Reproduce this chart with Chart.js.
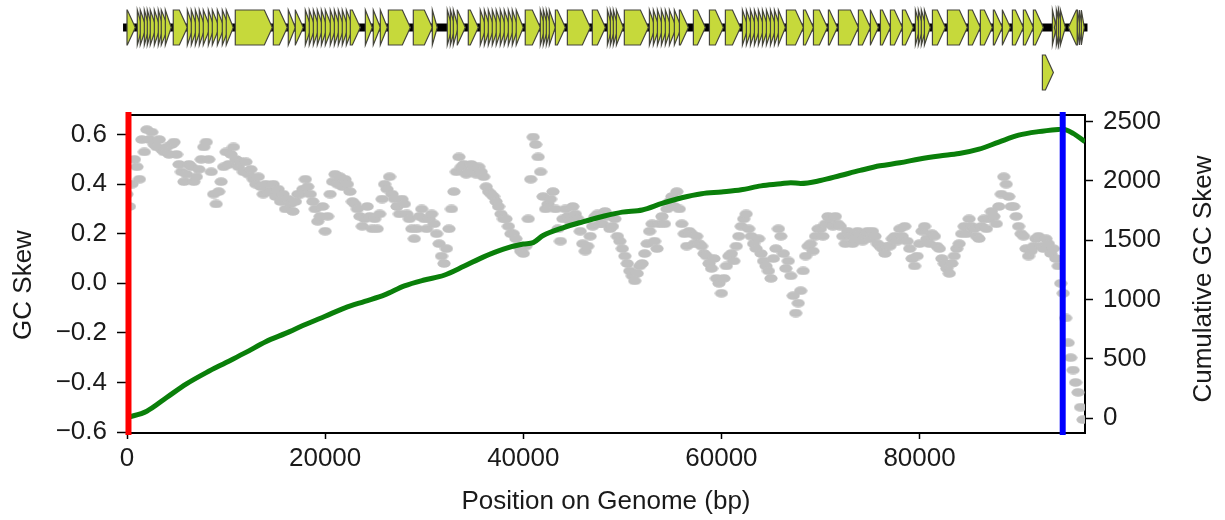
<!DOCTYPE html>
<html>
<head>
<meta charset="utf-8">
<title>GC Skew</title>
<script src="https://cdn.jsdelivr.net/npm/chart.js@4.4.1/dist/chart.umd.min.js"></script>
<style>
  html, body { margin: 0; padding: 0; background: #fff; }
  #wrap { width: 1225px; height: 520px; }
</style>
</head>
<body>
<div id="wrap"><canvas id="skewChart" width="1225" height="520"></canvas></div>
<script>
// GC skew per 250 bp window, one row = 5000 bp
const skewStep = 250;
const skewValues = [
  0.36, 0.31, 0.40, 0.50, 0.47, 0.42, 0.58, 0.53, 0.62, 0.58, 0.61, 0.56, 0.55, 0.58, 0.54, 0.53, 0.55, 0.52, 0.56, 0.57,
  0.52, 0.48, 0.45, 0.41, 0.44, 0.48, 0.47, 0.41, 0.43, 0.46, 0.50, 0.55, 0.57, 0.50, 0.45, 0.36, 0.32, 0.37, 0.41, 0.47,
  0.53, 0.48, 0.52, 0.55, 0.50, 0.47, 0.49, 0.45, 0.49, 0.44, 0.46, 0.42, 0.40, 0.43, 0.39, 0.36, 0.40, 0.37, 0.37, 0.40,
  0.35, 0.38, 0.33, 0.36, 0.30, 0.34, 0.32, 0.29, 0.33, 0.36, 0.36, 0.38, 0.42, 0.39, 0.36, 0.33, 0.30, 0.25, 0.27, 0.31,
  0.21, 0.27, 0.36, 0.41, 0.44, 0.40, 0.43, 0.39, 0.42, 0.40, 0.37, 0.33, 0.32, 0.30, 0.27, 0.23, 0.26, 0.31, 0.27, 0.22,
  0.26, 0.22, 0.28, 0.34, 0.40, 0.38, 0.43, 0.36, 0.34, 0.31, 0.28, 0.34, 0.32, 0.28, 0.26, 0.22, 0.18, 0.22, 0.27, 0.30,
  0.26, 0.22, 0.26, 0.28, 0.24, 0.20, 0.16, 0.11, 0.08, 0.14, 0.22, 0.30, 0.37, 0.45, 0.51, 0.47, 0.48, 0.44, 0.45, 0.48,
  0.47, 0.44, 0.47, 0.45, 0.43, 0.39, 0.37, 0.36, 0.35, 0.33, 0.31, 0.28, 0.26, 0.26, 0.23, 0.20, 0.20, 0.18, 0.15, 0.13,
  0.12, 0.15, 0.26, 0.42, 0.59, 0.56, 0.51, 0.45, 0.35, 0.30, 0.32, 0.34, 0.37, 0.30, 0.22, 0.17, 0.26, 0.30, 0.27, 0.25,
  0.31, 0.28, 0.26, 0.21, 0.16, 0.13, 0.15, 0.19, 0.23, 0.27, 0.28, 0.24, 0.24, 0.29, 0.27, 0.22, 0.23, 0.26, 0.19, 0.17,
  0.14, 0.11, 0.08, 0.05, 0.03, 0.01, 0.04, 0.07, 0.08, 0.12, 0.16, 0.21, 0.24, 0.17, 0.14, 0.24, 0.27, 0.24, 0.30, 0.33,
  0.35, 0.31, 0.37, 0.30, 0.24, 0.20, 0.15, 0.21, 0.20, 0.16, 0.19, 0.16, 0.15, 0.12, 0.11, 0.08, 0.06, 0.10, 0.02, 0.00,
  -0.04, 0.02, 0.07, 0.11, 0.12, 0.09, 0.15, 0.19, 0.23, 0.26, 0.28, 0.22, 0.19, 0.16, 0.14, 0.18, 0.12, 0.09, 0.07, 0.05,
  0.02, 0.10, 0.14, 0.22, 0.19, 0.12, 0.06, 0.09, 0.03, -0.05, -0.12, -0.08, -0.03, 0.05, 0.11, 0.15, 0.16, 0.13, 0.19, 0.22,
  0.22, 0.19, 0.24, 0.27, 0.26, 0.23, 0.27, 0.24, 0.23, 0.19, 0.16, 0.21, 0.19, 0.16, 0.18, 0.21, 0.20, 0.17, 0.19, 0.21,
  0.18, 0.21, 0.19, 0.16, 0.15, 0.14, 0.12, 0.15, 0.15, 0.18, 0.19, 0.17, 0.22, 0.19, 0.23, 0.17, 0.14, 0.10, 0.07, 0.11,
  0.16, 0.21, 0.23, 0.18, 0.16, 0.20, 0.19, 0.15, 0.14, 0.10, 0.08, 0.06, 0.04, 0.08, 0.11, 0.14, 0.16, 0.20, 0.23, 0.20,
  0.26, 0.23, 0.22, 0.19, 0.18, 0.23, 0.26, 0.22, 0.26, 0.29, 0.27, 0.24, 0.31, 0.36, 0.43, 0.40, 0.35, 0.31, 0.31, 0.27,
  0.23, 0.20, 0.19, 0.14, 0.11, 0.13, 0.15, 0.18, 0.19, 0.15, 0.14, 0.18, 0.16, 0.12, 0.14, 0.10, 0.07, 0.00, -0.04, -0.14,
  -0.24, -0.30, -0.35, -0.40, -0.44, -0.50, -0.55
];

// cumulative GC skew
const cumPositions = [0, 2000, 4000, 6000, 8000, 10000, 12000, 14000, 16000, 18000,
  20000, 22000, 24000, 26000, 28000, 30000, 32000, 34000, 36000, 38000,
  40000, 41000, 42000, 44000, 46000, 48000, 50000, 52000, 54000, 56000,
  58000, 60000, 62000, 64000, 66000, 67000, 68000, 70000, 72000, 74000,
  76000, 78000, 80000, 82000, 84000, 86000, 88000, 90000, 92000, 94000,
  94500, 95500, 96700];
const cumValues = [5, 60, 175, 290, 385, 470, 555, 645, 715, 790,
  860, 930, 985, 1040, 1115, 1165, 1205, 1280, 1360, 1425,
  1468, 1480, 1540, 1605, 1655, 1700, 1737, 1755, 1810, 1858,
  1892, 1907, 1925, 1958, 1975, 1985, 1978, 2003, 2045, 2088,
  2127, 2152, 2185, 2210, 2230, 2267, 2327, 2385, 2415, 2433,
  2436, 2400, 2330];

const positionTicks = [0, 20000, 40000, 60000, 80000];
const skewTicks = [-0.6, -0.4, -0.2, 0.0, 0.2, 0.4, 0.6];
const cumTicks = [0, 500, 1000, 1500, 2000, 2500];

// origin (red) and terminus (blue)
const originPos = 150;
const terminusPos = 94450;

// gene map
const backbone = [-400, 96950];
const geneStarts = [0, 1040, 1340, 1750, 2050, 2350, 2760, 3160, 3460, 3870,
  4670, 6090, 6490, 6900, 7300, 7700, 8210, 8610, 9120, 9620,
  10020, 10930, 14770, 16280, 16990, 18000, 18400, 18810, 19210, 19620,
  20020, 20520, 20930, 21330, 21730, 22140, 22540, 24060, 24860, 25570,
  26380, 28900, 30820, 32330, 32640, 32940, 33340, 34450, 35660, 36070,
  36470, 36870, 37270, 37680, 38080, 38490, 38890, 39290, 40200, 41720,
  42020, 42330, 42630, 43240, 44450, 46970, 48490, 48790, 49090, 49400,
  50200, 52730, 53130, 53540, 53940, 54340, 54750, 55250, 55760, 57170,
  58790, 60400, 62120, 62520, 62930, 63330, 63730, 64140, 64540, 64950,
  65350, 65750, 66560, 68280, 69290, 70800, 71810, 73830, 75040, 76050,
  77060, 78270, 79580, 79880, 80180, 80490, 81300, 82810, 84930, 86140,
  87450, 88360, 89370, 90480, 91490, 93410, 93610, 93810, 94020, 94220,
  95020, 95930, 96130, 96330];
const geneEnds = [840, 1550, 1950, 2250, 2550, 2960, 3360, 3670, 4170, 4470,
  6090, 6690, 7100, 7500, 7900, 8410, 8810, 9320, 9820, 10330,
  10730, 14670, 16180, 16990, 17800, 18610, 19010, 19420, 19820, 20220,
  20720, 21130, 21530, 21940, 22340, 22840, 23550, 24760, 25570, 26280,
  28600, 30820, 31320, 32840, 33140, 33440, 34150, 35460, 36270, 36670,
  37070, 37480, 37880, 38280, 38690, 39090, 39490, 40000, 41720, 42230,
  42530, 42830, 43240, 44250, 46770, 48290, 48990, 49300, 49600, 50100,
  52630, 53330, 53740, 54140, 54540, 54950, 55450, 55960, 56670, 58380,
  60200, 61920, 62720, 63130, 63530, 63940, 64340, 64740, 65150, 65550,
  65960, 66460, 68280, 69290, 70700, 71710, 73830, 75040, 75850, 77060,
  78270, 79380, 80080, 80390, 80690, 81090, 82610, 84830, 86140, 87350,
  88360, 89170, 90480, 91490, 92500, 93810, 94020, 94220, 94420, 94720,
  95930, 96230, 96430, 96630];
const reverseGeneStarts = [93610, 95020];
const lowerGeneStarts = [92400];
const lowerGeneEnds = [93510];

const FONT = '"Liberation Sans", Arial, sans-serif';
const TEXT = '#1a1a1a';

// flattened dot, like the markers in the original figure
function makeDot() {
  const c = document.createElement('canvas');
  c.width = 14;
  c.height = 9;
  const g = c.getContext('2d');
  g.fillStyle = '#c0c0c0';
  g.beginPath();
  g.ellipse(7, 4.5, 6.6, 4.3, 0, 0, Math.PI * 2);
  g.fill();
  return c;
}

function drawGene(ctx, x1, x2, cy, reverse) {
  const h = 17.5;
  const head = Math.min(8, x2 - x1);
  ctx.beginPath();
  if (!reverse) {
    ctx.moveTo(x1, cy - h);
    ctx.lineTo(x2 - head, cy - h);
    ctx.lineTo(x2, cy);
    ctx.lineTo(x2 - head, cy + h);
    ctx.lineTo(x1, cy + h);
  } else {
    ctx.moveTo(x2, cy - h);
    ctx.lineTo(x1 + head, cy - h);
    ctx.lineTo(x1, cy);
    ctx.lineTo(x1 + head, cy + h);
    ctx.lineTo(x2, cy + h);
  }
  ctx.closePath();
  ctx.fill();
  ctx.stroke();
}

const extras = {
  id: 'extras',
  afterDatasetsDraw(chart) {
    const { ctx, chartArea } = chart;
    const x = chart.scales.x;
    ctx.save();
    // top edge of the frame
    ctx.strokeStyle = '#000';
    ctx.lineWidth = 2;
    ctx.beginPath();
    ctx.moveTo(chartArea.left, chartArea.top);
    ctx.lineTo(chartArea.right, chartArea.top);
    ctx.stroke();
    // origin / terminus markers
    [[originPos, '#ff0000'], [terminusPos, '#0000ff']].forEach(([pos, col]) => {
      const px = x.getPixelForValue(pos);
      ctx.strokeStyle = col;
      ctx.lineWidth = 6;
      ctx.beginPath();
      ctx.moveTo(px, chartArea.top - 3);
      ctx.lineTo(px, chartArea.bottom + 2);
      ctx.stroke();
    });
    ctx.restore();
  },
  afterDraw(chart) {
    const ctx = chart.ctx;
    const x = chart.scales.x;
    ctx.save();
    // y titles, both reading bottom to top
    ctx.fillStyle = TEXT;
    ctx.font = '26px ' + FONT;
    ctx.textAlign = 'center';
    ctx.textBaseline = 'alphabetic';
    ctx.translate(31, 285);
    ctx.rotate(-Math.PI / 2);
    ctx.fillText('GC Skew', 0, 0);
    ctx.setTransform(1, 0, 0, 1, 0, 0);
    ctx.translate(1211, 279);
    ctx.rotate(-Math.PI / 2);
    ctx.fillText('Cumulative GC Skew', 0, 0);
    ctx.setTransform(1, 0, 0, 1, 0, 0);

    // gene map above the plot
    const rowY = [27.5, 72.5];
    const b1 = x.getPixelForValue(backbone[0]);
    const b2 = x.getPixelForValue(backbone[1]);
    ctx.fillStyle = '#000';
    ctx.fillRect(b1, rowY[0] - 4, b2 - b1, 8);
    ctx.fillStyle = '#c6d93b';
    ctx.strokeStyle = '#45453c';
    ctx.lineWidth = 1.2;
    geneStarts.forEach((s, i) => {
      drawGene(ctx, x.getPixelForValue(s), x.getPixelForValue(geneEnds[i]), rowY[0], reverseGeneStarts.includes(s));
    });
    lowerGeneStarts.forEach((s, i) => {
      drawGene(ctx, x.getPixelForValue(s), x.getPixelForValue(lowerGeneEnds[i]), rowY[1], false);
    });
    ctx.restore();
  }
};

const skewPoints = skewValues.map((v, i) => ({ x: i * skewStep, y: v }));
const cumPoints = cumPositions.map((p, i) => ({ x: p, y: cumValues[i] }));

const tickFont = { family: FONT, size: 26 };

new Chart(document.getElementById('skewChart'), {
  type: 'scatter',
  data: {
    datasets: [
      {
        label: 'Cumulative GC Skew',
        type: 'line',
        data: cumPoints,
        yAxisID: 'y1',
        borderColor: '#0a7f0a',
        borderWidth: 5,
        pointRadius: 0,
        cubicInterpolationMode: 'monotone',
        fill: false,
        order: 1
      },
      {
        label: 'GC Skew',
        data: skewPoints,
        yAxisID: 'y',
        pointStyle: makeDot(),
        pointRadius: 6,
        order: 2
      }
    ]
  },
  options: {
    responsive: false,
    animation: false,
    devicePixelRatio: 1,
    layout: { padding: { top: 115, left: 0, right: 0, bottom: 0 } },
    plugins: { legend: { display: false }, tooltip: { enabled: false } },
    scales: {
      x: {
        type: 'linear',
        min: 0,
        max: 96700,
        afterBuildTicks: s => { s.ticks = positionTicks.map(v => ({ value: v })); },
        afterFit: s => { s.height = 87; },
        grid: { drawOnChartArea: false, tickLength: 6, tickColor: '#000', tickWidth: 1.5 },
        border: { color: '#000', width: 2 },
        ticks: { color: TEXT, font: tickFont, padding: 4, maxRotation: 0, callback: v => String(v) },
        title: { display: true, text: 'Position on Genome (bp)', color: TEXT, font: tickFont, padding: { top: 0, bottom: 3 } }
      },
      y: {
        position: 'left',
        min: -0.604,
        max: 0.679,
        afterBuildTicks: s => { s.ticks = skewTicks.map(v => ({ value: v })); },
        afterFit: s => { s.width = 127; },
        grid: { drawOnChartArea: false, tickLength: 10, tickColor: '#000', tickWidth: 1.5 },
        border: { color: '#000', width: 2 },
        ticks: {
          color: TEXT, font: tickFont, padding: 10,
          callback: v => (v < 0 ? '\u2212' : '') + Math.abs(v).toFixed(1)
        }
      },
      y1: {
        position: 'right',
        min: -124,
        max: 2555,
        afterBuildTicks: s => { s.ticks = cumTicks.map(v => ({ value: v })); },
        afterFit: s => { s.width = 140; },
        grid: { drawOnChartArea: false, tickLength: 8, tickColor: '#000', tickWidth: 1.5 },
        border: { color: '#000', width: 2 },
        ticks: { color: TEXT, font: tickFont, padding: 10, callback: v => String(v) }
      }
    }
  },
  plugins: [extras]
});
</script>
</body>
</html>
